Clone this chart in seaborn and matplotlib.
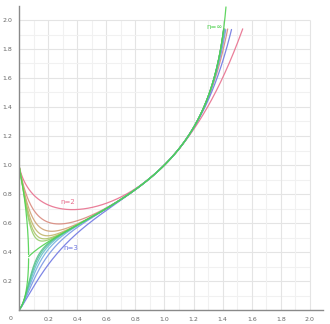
import numpy as np
import pandas as pd
import matplotlib
matplotlib.use("Agg")
import matplotlib.pyplot as plt
import seaborn as sns

# ---- data ----
even_orders = [2, 4, 6, 8, 10, 12]
odd_orders = [3, 5, 7, 9, 11, 13]
even_colors = ["#e8708e", "#d98a7e", "#cfa274", "#c2b66c", "#aec46a", "#98cf6c"]
odd_colors = ["#6f78e2", "#7a98e4", "#74b2e0", "#66c2c8", "#5cc0a4", "#58c488"]
inf_color = "#4fd14f"
x_ticks = [0.2, 0.4, 0.6, 0.8, 1.0, 1.2, 1.4, 1.6, 1.8, 2.0]
y_ticks = [0.2, 0.4, 0.6, 0.8, 1.0, 1.2, 1.4, 1.6, 1.8, 2.0]
tick_labels = ["0.2", "0.4", "0.6", "0.8", "1.0", "1.2", "1.4", "1.6", "1.8", "2.0"]
curve_labels = ["n=2", "n=3", "n=∞"]
curve_label_pos = [(0.337, 0.745), (0.357, 0.428), (1.347, 1.95)]
curve_label_colors = ["#e8708e", "#6f78e2", inf_color]
y_cut = 1.94

x_grid = np.unique(np.concatenate([np.geomspace(1e-4, 0.1, 200),
                                   np.linspace(0.1, 1.6, 800)]))


def tower(x, n):
    y = x.copy()
    for _ in range(n - 1):
        y = x ** y
    return y


rows = []
palette = {}
for n, c in list(zip(even_orders, even_colors)) + list(zip(odd_orders, odd_colors)):
    y = tower(x_grid, n)
    m = y <= y_cut
    idx = np.argmax(~m) if (~m).any() else len(y)
    key = f"n={n}"
    palette[key] = c
    for xv, yv in zip(x_grid[:idx], y[:idx]):
        rows.append((key, xv, yv))

# infinite tower: convergent part
yy = np.linspace(1 / np.e, 2.09, 400)
xx = yy ** (1 / yy)
inf_parts = [(xx, yy)]
# 2-cycle limits below e^-e
xs = np.linspace(1e-4, np.exp(-np.e), 200)
t = xs.copy()
for _ in range(4000):
    t = xs ** t
t2 = xs ** t
inf_parts.append((xs, np.maximum(t, t2)))
inf_parts.append((xs, np.minimum(t, t2)))
for i, (a, b) in enumerate(inf_parts):
    key = f"inf{i}"
    palette[key] = inf_color
    for xv, yv in zip(a, b):
        rows.append((key, xv, yv))

df = pd.DataFrame(rows, columns=["curve", "x", "y"])

# ---- plot ----
sns.set_style("white")
fig = plt.figure(figsize=(3.30, 3.24), dpi=100)
ax = fig.add_axes([19 / 330, 14 / 324, 304 / 330, 304.5 / 324])

for v in np.arange(0.1, 2.001, 0.1):
    major = abs(round(v * 10) % 2) == 0
    col = "#e4e4e4" if major else "#f1f1f1"
    ax.vlines(v, 0, 2.0, color=col, lw=0.8, zorder=0)
    ax.hlines(v, 0, 2.0, color=col, lw=0.8, zorder=0)

sns.lineplot(data=df, x="x", y="y", hue="curve", palette=palette, sort=False,
             estimator=None, units="curve", legend=False, lw=0.9, alpha=0.9, ax=ax)

for txt, (px, py), c in zip(curve_labels, curve_label_pos, curve_label_colors):
    ax.text(px, py, txt, color=c, fontsize=5, ha="center", va="center")

ax.set_xlim(0, 2.09)
ax.set_ylim(0, 2.1)
ax.set_xticks(x_ticks)
ax.set_yticks(y_ticks)
ax.set_xticklabels(tick_labels)
ax.set_yticklabels(tick_labels)
ax.set_xlabel("")
ax.set_ylabel("")
for s in ["top", "right"]:
    ax.spines[s].set_visible(False)
for s in ["left", "bottom"]:
    ax.spines[s].set_color("#8a8a8a")
    ax.spines[s].set_linewidth(1.0)
ax.tick_params(axis="both", direction="inout", length=5, width=0.8, color="#8a8a8a",
               labelsize=4.5, labelcolor="#666666", pad=2.5)
ax.text(-0.06, -0.06, "0", fontsize=4.5, color="#666666", ha="center", va="center")

fig.savefig("out.png", dpi=100)
